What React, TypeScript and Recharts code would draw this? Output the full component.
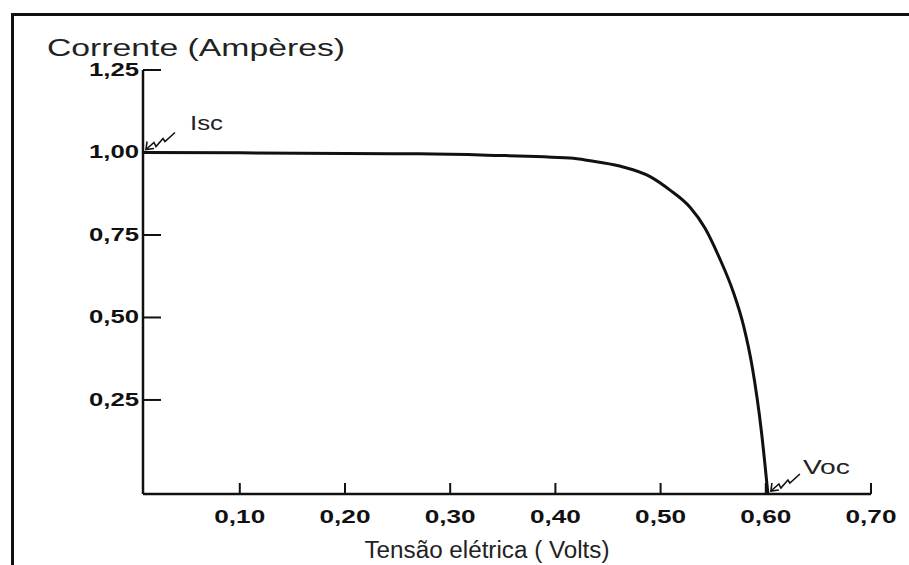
import React from "react";
import { LineChart, Line, XAxis, YAxis, ReferenceDot } from "recharts";

const voltage = [0.008, 0.1, 0.2, 0.27, 0.335, 0.414, 0.433, 0.461, 0.49, 0.509, 0.528, 0.542, 0.556, 0.569, 0.579, 0.587, 0.596, 0.602];
const current = [1.0, 0.999, 0.997, 0.996, 0.992, 0.983, 0.975, 0.959, 0.927, 0.886, 0.834, 0.772, 0.68, 0.578, 0.473, 0.352, 0.15, -0.035];

const xTicks = [0.1, 0.2, 0.3, 0.4, 0.5, 0.6, 0.7];
const yTicks = [0.25, 0.5, 0.75, 1.0, 1.25];

const iscPoint = { v: 0.008, i: 1.0 };
const vocPoint = { v: 0.602, i: -0.035 };

const data = voltage.map((v, idx) => ({ v, i: current[idx] }));

const fmt = (n: number) => n.toFixed(2).replace(".", ",");
const INK = "#111";
const SANS = "'Liberation Sans', Arial, sans-serif";

const YTick = ({ x, y, payload }: any) => (
  <g>
    <line x1={x} x2={x + 18} y1={y} y2={y} stroke={INK} strokeWidth={2} />
    <text
      x={x - 4}
      y={y + 6}
      textAnchor="end"
      fontFamily={SANS}
      fontWeight="bold"
      fontSize={18}
      fill={INK}
      textLength={50}
      lengthAdjust="spacingAndGlyphs"
    >
      {fmt(payload.value)}
    </text>
  </g>
);

const XTick = ({ x, y, payload }: any) => (
  <g>
    <line x1={x} x2={x} y1={y - 11} y2={y} stroke={INK} strokeWidth={2} />
    <text
      x={x}
      y={y + 29}
      textAnchor="middle"
      fontFamily={SANS}
      fontWeight="bold"
      fontSize={18}
      fill={INK}
      textLength={51}
      lengthAdjust="spacingAndGlyphs"
    >
      {fmt(payload.value)}
    </text>
  </g>
);

const Marker = ({ cx, cy, text, dx, dy, width }: any) => {
  if (cx == null || cy == null) return null;
  const sx = cx + 3;
  const sy = cy - 3;
  return (
    <g>
      <path
        d={`M${sx},${sy} l8,-7 l2,4 l7,-8 l2,3 l10,-9`}
        fill="none"
        stroke={INK}
        strokeWidth={1.6}
      />
      <path d={`M${sx + 8},${sy - 1} L${sx},${sy} L${sx + 1},${sy - 8}`} fill="none" stroke={INK} strokeWidth={1.6} />
      <text
        x={cx + dx}
        y={cy + dy}
        fontFamily={SANS}
        fontSize={21}
        fill="#222"
        textLength={width}
        lengthAdjust="spacingAndGlyphs"
      >
        {text}
      </text>
    </g>
  );
};

export default function App() {
  return (
    <div style={{ position: "absolute", left: 0, top: 0, width: 909, height: 565, background: "#fff" }}>
      <div
        style={{
          position: "absolute",
          left: 11,
          top: 13,
          width: 898,
          height: 552,
          borderTop: "3px solid #111",
          borderLeft: "3px solid #111",
        }}
      />
      <LineChart
        width={909}
        height={565}
        data={data}
        margin={{ top: 70, right: 38, bottom: 70, left: 142 }}
        style={{ position: "absolute", left: 0, top: 0 }}
      >
        <XAxis
          dataKey="v"
          type="number"
          domain={[0.008, 0.7]}
          ticks={xTicks}
          height={1}
          tickSize={0}
          tickMargin={0}
          tickLine={false}
          tick={<XTick />}
          axisLine={{ stroke: INK, strokeWidth: 2.5 }}
          allowDataOverflow
        />
        <YAxis
          type="number"
          domain={[-0.035, 1.25]}
          ticks={yTicks}
          width={1}
          tickSize={0}
          tickMargin={0}
          tickLine={false}
          tick={<YTick />}
          axisLine={{ stroke: INK, strokeWidth: 2.5 }}
          allowDataOverflow
        />
        <Line
          type="monotone"
          dataKey="i"
          stroke={INK}
          strokeWidth={3}
          dot={false}
          isAnimationActive={false}
        />
        <ReferenceDot
          x={iscPoint.v}
          y={iscPoint.i}
          ifOverflow="visible"
          shape={(p: any) => <Marker {...p} text="Isc" dx={47} dy={-22} width={33} />}
        />
        <ReferenceDot
          x={vocPoint.v}
          y={vocPoint.i}
          ifOverflow="visible"
          shape={(p: any) => <Marker {...p} text="Voc" dx={35} dy={-20} width={47} />}
        />
        <text x={47} y={56} fontFamily={SANS} fontSize={23} fill="#222" textLength={298} lengthAdjust="spacingAndGlyphs">
          Corrente (Ampères)
        </text>
        <text x={487} y={558} textAnchor="middle" fontFamily={SANS} fontSize={23} fill="#222" textLength={245} lengthAdjust="spacingAndGlyphs">
          Tensão elétrica ( Volts)
        </text>
      </LineChart>
    </div>
  );
}
